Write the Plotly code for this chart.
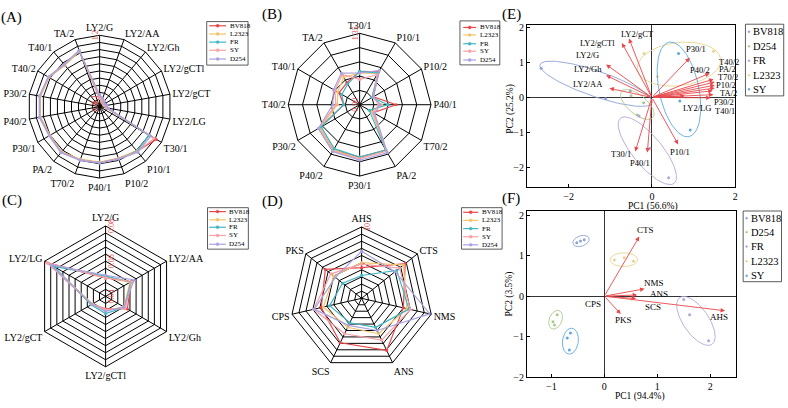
import numpy as np
import plotly.graph_objects as go

SERIF = "Liberation Serif, Times New Roman, serif"
W, H = 788, 408

# ---------------- data ----------------
series = ["BV818", "L2323", "FR", "SY", "D254"]

cats_A = ["LY2/G", "LY2/AA", "LY2/Gh", "LY2/gCTl", "LY2/gCT", "LY2/LG", "T30/1", "P10/1", "P10/2",
          "P40/1", "T70/2", "PA/2", "P30/1", "P40/2", "P30/2", "T40/2", "T40/1", "TA/2"]
A_BV818 = [0.15, 0.11, 0.09, 0.08, 0.09, 0.12, 1.10, 0.98, 0.93, 0.94, 0.95, 1.00, 0.97, 1.02, 1.02, 0.99, 0.92, 1.00]
A_L2323 = [0.14, 0.10, 0.08, 0.07, 0.08, 0.11, 0.97, 0.97, 0.92, 0.93, 0.94, 0.99, 0.96, 1.01, 1.01, 0.98, 0.91, 0.99]
A_FR    = [0.16, 0.12, 0.09, 0.08, 0.10, 0.12, 0.96, 0.98, 0.93, 0.94, 0.95, 1.00, 0.97, 1.02, 1.02, 0.99, 0.92, 1.00]
A_SY    = [0.15, 0.11, 0.09, 0.08, 0.09, 0.12, 1.06, 0.99, 0.93, 0.94, 0.95, 1.00, 0.97, 1.02, 1.02, 0.99, 0.92, 1.00]
A_D254  = [0.20, 0.15, 0.12, 0.10, 0.12, 0.15, 0.99, 1.00, 0.94, 0.95, 0.96, 1.01, 0.98, 1.03, 1.03, 1.00, 0.93, 1.01]

cats_B = ["T30/1", "P10/1", "P10/2", "P40/1", "T70/2", "PA/2", "P30/1", "P40/2", "P30/2", "T40/2", "T40/1", "TA/2"]
B_BV818 = [1.11, 1.14, 1.00, 1.13, 1.00, 1.23, 1.23, 1.23, 1.19, 1.00, 1.05, 1.06]
B_L2323 = [1.10, 1.13, 0.99, 1.04, 0.99, 1.23, 1.24, 1.23, 1.19, 1.04, 1.06, 1.10]
B_FR    = [1.11, 1.13, 0.99, 1.08, 0.97, 1.23, 1.23, 1.22, 1.18, 1.00, 1.03, 1.05]
B_SY    = [1.06, 1.12, 1.00, 1.02, 1.00, 1.24, 1.24, 1.24, 1.20, 1.05, 1.08, 1.12]
B_D254  = [1.10, 1.15, 1.00, 1.03, 1.01, 1.25, 1.25, 1.24, 1.20, 1.07, 1.09, 1.13]

cats_C = ["LY2/G", "LY2/AA", "LY2/Gh", "LY2/gCTl", "LY2/gCT", "LY2/LG"]
C_BV818 = [0.0505, 0.0567, 0.0543, 0.0470, 0.0490, 0.0780]
C_L2323 = [0.0510, 0.0560, 0.0520, 0.0480, 0.0485, 0.0765]
C_FR    = [0.0515, 0.0565, 0.0525, 0.0498, 0.0495, 0.0740]
C_SY    = [0.0505, 0.0570, 0.0530, 0.0475, 0.0488, 0.0785]
C_D254  = [0.0520, 0.0587, 0.0520, 0.0485, 0.0490, 0.0760]

cats_D = ["AHS", "CTS", "NMS", "ANS", "SCS", "CPS", "PKS"]
D_BV818 = [4.3, 7.8, 6.0, 8.1, 6.9, 5.8, 6.5]
D_L2323 = [5.0, 7.5, 6.5, 5.5, 4.5, 5.5, 5.0]
D_FR    = [3.2, 6.3, 6.8, 4.5, 3.8, 4.6, 3.4]
D_SY    = [4.8, 6.8, 7.0, 6.5, 5.5, 6.9, 5.5]
D_D254  = [6.6, 6.0, 9.8, 5.0, 4.2, 6.8, 4.7]

# PCA panel E: loadings
E_vars = ["LY2/gCT", "LY2/gCTl", "LY2/G", "LY2/Gh", "LY2/AA", "P30/1", "P40/2", "T40/2", "PA/2", "T70/2",
          "P10/2", "TA/2", "P30/2", "T40/1", "LY2/LG", "T30/1", "P40/1", "P10/1"]
E_load_x = [-0.55, -0.72, -1.10, -1.10, -1.02, 0.91, 1.39, 1.48, 1.51, 1.51, 1.51, 1.46, 1.48, 1.41, 0.79, -0.40, -0.11, 0.63]
E_load_y = [1.68, 1.55, 0.94, 0.63, 0.26, 1.13, 0.69, 0.52, 0.44, 0.35, 0.27, 0.19, 0.08, -0.01, 0.05, -1.54, -1.57, -1.34]
E_lab_x = [-0.35, -1.30, -1.54, -1.54, -1.54, 1.05, 1.15, 1.84, 1.82, 1.82, 1.79, 1.84, 1.72, 1.75, 1.08, -0.75, -0.28, 0.67]
E_lab_y = [1.80, 1.55, 1.21, 0.80, 0.38, 1.38, 0.77, 1.02, 0.80, 0.575, 0.35, 0.13, -0.12, -0.40, -0.29, -1.62, -1.87, -1.56]

# PCA panel E: scores per group
groups = ["BV818", "D254", "FR", "L2323", "SY"]
E_pts_x = {"BV818": [-2.66, -1.11, -0.52], "SY": [0.64, 0.67, 0.92], "L2323": [-0.19, 1.48, 0.13],
           "FR": [-0.31, -0.05, 0.40], "D254": [-0.50, -0.35, -0.20]}
E_pts_y = {"BV818": [0.83, -0.04, 0.19], "SY": [1.25, -0.10, -0.93], "L2323": [1.25, 1.32, 0.60],
           "FR": [-0.53, -1.45, -2.29], "D254": [0.05, -0.50, -0.15]}
# confidence ellipses: centre, semi-axis vectors
E_ell = {"BV818": [-1.34, 0.39, 1.345, -0.486, -0.113, 0.425],
         "SY": [0.65, 0.23, 0.238, -1.347, 0.467, 0.111],
         "L2323": [0.65, 0.95, 1.00, 0.15, -0.07, 0.61],
         "FR": [-0.11, -1.52, 0.643, -0.93, 0.278, 0.261],
         "D254": [-0.35, -0.20, 0.35, -0.40, 0.20, 0.15]}

# PCA panel F
F_vars = ["CTS", "NMS", "ANS", "SCS", "AHS", "PKS", "CPS"]
F_load_x = [0.66, 0.76, 0.62, 0.60, 2.28, 0.31, -0.04]
F_load_y = [1.47, 0.18, 0.03, -0.06, -0.36, -0.44, -0.05]
F_lab_x = [0.77, 0.94, 1.03, 0.91, 2.16, 0.36, -0.22]
F_lab_y = [1.64, 0.33, 0.06, -0.27, -0.51, -0.60, -0.20]
F_pts_x = {"BV818": [-0.52, -0.45, -0.38], "L2323": [0.19, 0.375, 0.55], "D254": [-0.89, -0.97, -0.94],
           "SY": [-0.64, -0.70, -0.66], "FR": [1.50, 1.61, 1.97]}
F_pts_y = {"BV818": [1.32, 1.36, 1.39], "L2323": [0.89, 0.95, 0.86], "D254": [-0.46, -0.63, -0.71],
           "SY": [-0.91, -1.03, -1.33], "FR": [-0.08, -0.46, -1.10]}
F_ell = {"BV818": [-0.44, 1.36, 0.15, 0.07, -0.035, 0.12],
         "L2323": [0.37, 0.90, 0.26, 0.00, 0.00, 0.17],
         "D254": [-0.92, -0.58, 0.05, 0.23, 0.12, -0.02],
         "SY": [-0.64, -1.11, 0.02, 0.32, 0.15, 0.00],
         "FR": [1.73, -0.61, 0.30, -0.58, 0.204, 0.17]}

# ---------------- styles ----------------
COL = {"BV818": "#e8474b", "L2323": "#f2c46a", "FR": "#41b6c4", "SY": "#f7a1a8", "D254": "#a8a3e0"}
GCOL = {"BV818": "#8fa3d6", "D254": "#a9c98f", "FR": "#b3a6d6", "L2323": "#e6d48f", "SY": "#5fa8e0"}
ARROW = "#e8474b"

def fx(p):
    return p / W

def fy(p):
    return 1 - p / H

fig = go.Figure()

radar = [
    ("polar", cats_A, {"BV818": A_BV818, "L2323": A_L2323, "FR": A_FR, "SY": A_SY, "D254": A_D254}),
    ("polar2", cats_B, {"BV818": B_BV818, "L2323": B_L2323, "FR": B_FR, "SY": B_SY, "D254": B_D254}),
    ("polar3", cats_C, {"BV818": C_BV818, "L2323": C_L2323, "FR": C_FR, "SY": C_SY, "D254": C_D254}),
    ("polar4", cats_D, {"BV818": D_BV818, "L2323": D_L2323, "FR": D_FR, "SY": D_SY, "D254": D_D254}),
]
for sp, cats, data in radar:
    for s in series:
        v = data[s]
        fig.add_trace(go.Scatterpolar(r=v + [v[0]], theta=cats + [cats[0]], mode="lines+markers",
                                      line=dict(color=COL[s], width=1.2), marker=dict(size=3, color=COL[s]),
                                      subplot=sp, showlegend=False, name=s))

def polar_cfg(cx, cy, rad, rng, vals, labels, side):
    return dict(
        domain=dict(x=[fx(cx - rad), fx(cx + rad)], y=[fy(cy + rad), fy(cy - rad)]),
        gridshape="linear", bgcolor="white",
        angularaxis=dict(direction="clockwise", rotation=90, type="category", showline=True,
                         linecolor="black", linewidth=1, gridcolor="black", gridwidth=0.8, ticks="",
                         tickfont=dict(size=10, color="black", family=SERIF)),
        radialaxis=dict(range=rng, tickvals=vals, ticktext=labels, showline=False, gridcolor="black",
                        gridwidth=0.8, angle=90, tickangle=0, ticks="", side=side,
                        tickfont=dict(size=8, color="#e05050", family=SERIF)),
    )

tvA = [round(0.12 * i, 2) for i in range(11)]
ttA = ["0.0", "0.1"] + [""] * 8 + ["1.2"]
tvB = [0.90, 0.99, 1.08, 1.17, 1.26, 1.35]
ttB = ["0.90", "", "", "", "", "1.35"]
tvC = [round(0.04 + 0.004 * i, 3) for i in range(11)]
ttC = ["0.04", "", "", "", "", "0.06", "", "", "", "", "0.08"]
tvD = list(range(11))
ttD = [""] * 10 + ["10"]

# ---------------- PCA panels ----------------
t = np.linspace(0, 2 * np.pi, 120)
for ax_x, ax_y, pts_x, pts_y, ell in [("x", "y", E_pts_x, E_pts_y, E_ell), ("x2", "y2", F_pts_x, F_pts_y, F_ell)]:
    for g in groups:
        cx, cy, a1, a2, b1, b2 = ell[g]
        fig.add_trace(go.Scatter(x=cx + a1 * np.cos(t) + b1 * np.sin(t), y=cy + a2 * np.cos(t) + b2 * np.sin(t),
                                 mode="lines", line=dict(color=GCOL[g], width=0.9), xaxis=ax_x, yaxis=ax_y,
                                 showlegend=False, hoverinfo="skip"))
        fig.add_trace(go.Scatter(x=pts_x[g], y=pts_y[g], mode="markers", marker=dict(size=3, color=GCOL[g]),
                                 xaxis=ax_x, yaxis=ax_y, showlegend=False, name=g))

annotations = []
shapes = []

for names, lx, ly, tx, ty, xr, yr, fs in [(E_vars, E_load_x, E_load_y, E_lab_x, E_lab_y, "x", "y", 8.5),
                                          (F_vars, F_load_x, F_load_y, F_lab_x, F_lab_y, "x2", "y2", 9)]:
    for n, x1, y1, x2, y2 in zip(names, lx, ly, tx, ty):
        annotations.append(dict(x=x1, y=y1, ax=0, ay=0, xref=xr, yref=yr, axref=xr, ayref=yr, text="",
                                showarrow=True, arrowhead=2, arrowsize=1, arrowwidth=0.9, arrowcolor=ARROW))
        annotations.append(dict(x=x2, y=y2, xref=xr, yref=yr, text=n, showarrow=False,
                                font=dict(size=fs, color="black", family=SERIF)))

axis_common = dict(showline=True, linecolor="black", linewidth=1, mirror=True, ticks="inside", ticklen=3,
                   tickcolor="black", showgrid=False, zeroline=True, zerolinecolor="#333333", zerolinewidth=1,
                   tickfont=dict(size=10, color="black", family=SERIF))

# panel labels
for txt, px, py in [("(A)", 12, 15), ("(B)", 273, 12), ("(C)", 12, 202), ("(D)", 274, 203),
                    ("(E)", 513, 12), ("(F)", 513, 200)]:
    annotations.append(dict(x=fx(px), y=fy(py), xref="paper", yref="paper", text=txt, showarrow=False,
                            xanchor="center", yanchor="middle", font=dict(size=15, color="black", family=SERIF)))

# axis titles
for txt, px, py, ang in [("PC1 (56.6%)", 655, 208, 0), ("PC2 (25.2%)", 513, 108, -90),
                         ("PC1 (94.4%)", 642, 402.5, 0), ("PC2 (3.5%)", 511, 298, -90)]:
    annotations.append(dict(x=fx(px), y=fy(py), xref="paper", yref="paper", text=txt, showarrow=False,
                            textangle=ang, xanchor="center", yanchor="middle",
                            font=dict(size=9.5, color="black", family=SERIF)))

# legends for radar panels
for (x0, y0, x1, y1, lx0, lx1, tx, ys) in [
        (207.5, 19, 249, 63.5, 210, 227, 229, [23.3, 31.7, 40, 48.3, 57.3]),
        (461.7, 18.3, 501.7, 63.3, 465, 478, 480, [25, 32.7, 41.7, 49.3, 58.3]),
        (208.3, 209.3, 249.3, 251.7, 210, 226.7, 228, [213.3, 221.7, 229.3, 237.7, 246.7]),
        (463.3, 209.3, 504, 251.7, 465, 480, 482, [214, 222.3, 230.7, 239, 247.3])]:
    shapes.append(dict(type="rect", xref="paper", yref="paper", x0=fx(x0), x1=fx(x1), y0=fy(y1), y1=fy(y0),
                       line=dict(color="#333333", width=0.8)))
    for s, yy in zip(series, ys):
        shapes.append(dict(type="line", xref="paper", yref="paper", x0=fx(lx0), x1=fx(lx1), y0=fy(yy), y1=fy(yy),
                           line=dict(color=COL[s], width=1.2)))
        m = (lx0 + lx1) / 2
        shapes.append(dict(type="circle", xref="paper", yref="paper", x0=fx(m - 1.5), x1=fx(m + 1.5),
                           y0=fy(yy + 1.5), y1=fy(yy - 1.5), fillcolor=COL[s], line=dict(color=COL[s], width=0.5)))
        annotations.append(dict(x=fx(tx), y=fy(yy), xref="paper", yref="paper", text=s, showarrow=False,
                                xanchor="left", yanchor="middle", font=dict(size=7, color="black", family=SERIF)))

# legends for PCA panels
for (x0, y0, x1, y1, ys) in [(748.3, 21.7, 786.7, 95, [29.3, 44.3, 59, 74, 88.3]),
                             (746, 212.7, 784.5, 285, [220, 234.3, 249, 264, 279])]:
    shapes.append(dict(type="rect", xref="paper", yref="paper", x0=fx(x0), x1=fx(x1), y0=fy(y1), y1=fy(y0),
                       line=dict(color="#333333", width=0.8)))
    for g, yy in zip(groups, ys):
        shapes.append(dict(type="circle", xref="paper", yref="paper", x0=fx(x0 + 2.5), x1=fx(x0 + 4.5),
                           y0=fy(yy + 1), y1=fy(yy - 1), fillcolor=GCOL[g], line=dict(color=GCOL[g], width=0.5)))
        annotations.append(dict(x=fx(x0 + 6), y=fy(yy), xref="paper", yref="paper", text=g, showarrow=False,
                                xanchor="left", yanchor="middle", font=dict(size=10.5, color="black", family=SERIF)))

fig.update_layout(
    width=W, height=H, margin=dict(l=0, r=0, t=0, b=0), paper_bgcolor="white", plot_bgcolor="white",
    font=dict(family=SERIF, color="black"),
    polar=polar_cfg(100, 106, 73, [0, 1.2], tvA, ttA, "counterclockwise"),
    polar2=polar_cfg(361, 104, 73, [0.9, 1.35], tvB, ttB, "counterclockwise"),
    polar3=polar_cfg(106, 300, 72, [0.04, 0.08], tvC, ttC, "clockwise"),
    polar4=polar_cfg(363, 302, 73, [0, 10], tvD, ttD, "clockwise"),
    xaxis=dict(domain=[fx(529), fx(738)], range=[-3.0, 2.0], tickvals=[-2, 0, 2], anchor="y", **axis_common),
    yaxis=dict(domain=[fy(188), fy(22)], range=[-2.55, 2.08], tickvals=[-2, -1, 0, 1, 2], anchor="x", **axis_common),
    xaxis2=dict(domain=[fx(529), fx(739)], range=[-1.46, 2.49], tickvals=[-1, 0, 1, 2], anchor="y2", **axis_common),
    yaxis2=dict(domain=[fy(382.7), fy(212.7)], range=[-2.0, 2.1], tickvals=[-2, -1, 0, 1, 2], anchor="x2", **axis_common),
    annotations=annotations, shapes=shapes,
)

fig.write_html("out.html")
